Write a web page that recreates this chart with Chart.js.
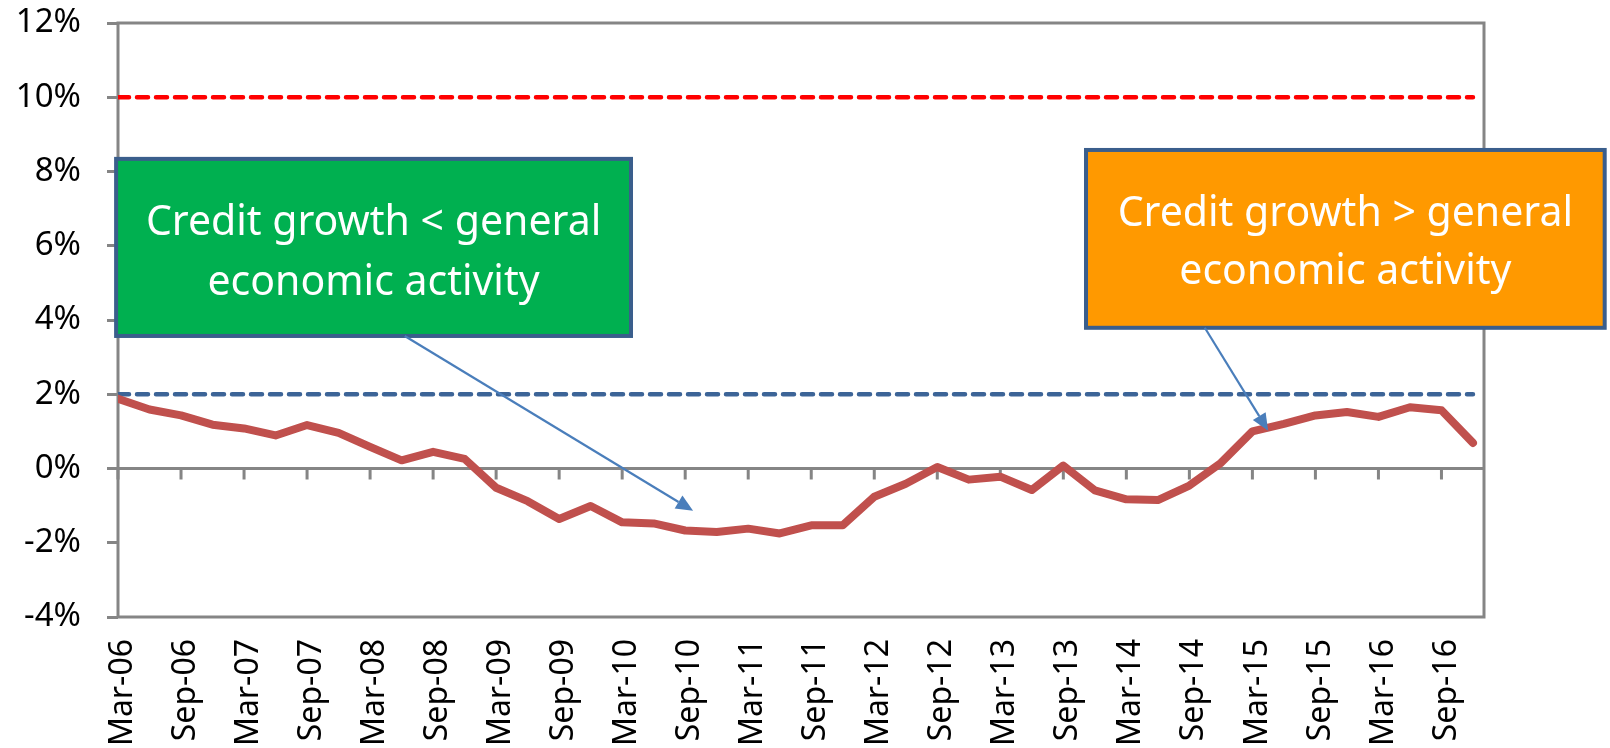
<!DOCTYPE html>
<html lang="en">
<head>
<meta charset="UTF-8" />
<title>Credit growth vs general economic activity</title>
<script src="https://cdn.jsdelivr.net/npm/chart.js"></script>
<style>
  html, body { margin: 0; padding: 0; background: #fff; }
  canvas { display: block; }
</style>
</head>
<body>
<canvas id="chart" width="1610" height="748"></canvas>
<script>
// quarterly categories, Mar-06 .. Dec-16
const quarters = [
  'Mar-06', 'Jun-06', 'Sep-06', 'Dec-06', 'Mar-07', 'Jun-07', 'Sep-07', 'Dec-07',
  'Mar-08', 'Jun-08', 'Sep-08', 'Dec-08', 'Mar-09', 'Jun-09', 'Sep-09', 'Dec-09',
  'Mar-10', 'Jun-10', 'Sep-10', 'Dec-10', 'Mar-11', 'Jun-11', 'Sep-11', 'Dec-11',
  'Mar-12', 'Jun-12', 'Sep-12', 'Dec-12', 'Mar-13', 'Jun-13', 'Sep-13', 'Dec-13',
  'Mar-14', 'Jun-14', 'Sep-14', 'Dec-14', 'Mar-15', 'Jun-15', 'Sep-15', 'Dec-15',
  'Mar-16', 'Jun-16', 'Sep-16', 'Dec-16'
];

// credit-to-GDP gap (%)
const creditGap = [
  1.88, 1.59, 1.43, 1.18, 1.08, 0.89, 1.17, 0.96,
  0.58, 0.22, 0.45, 0.26, -0.52, -0.88, -1.36, -1.01,
  -1.45, -1.48, -1.67, -1.71, -1.62, -1.75, -1.53, -1.53,
  -0.76, -0.41, 0.04, -0.30, -0.22, -0.58, 0.08, -0.59,
  -0.83, -0.85, -0.46, 0.15, 1.00, 1.20, 1.43, 1.52,
  1.39, 1.65, 1.57, 0.69
];

const upperThreshold = 10;
const lowerThreshold = 2;
const yTickValues = [-4, -2, 0, 2, 4, 6, 8, 10, 12];

const lastIdx = quarters.length - 1;
const axisGray = '#858585';
const font = '"Noto Sans", "DejaVu Sans", sans-serif';

// boxes and arrows, in data units (x = quarter index, y = %)
const notes = [
  {
    box: [-0.06, 8.34, 16.28, 3.57], fill: '#00B050', size: 41,
    lines: ['Credit growth < general', 'economic activity'], baselines: [76, 136],
    arrow: [9.1, 3.57, 18.25, -1.14]
  },
  {
    box: [30.72, 8.58, 47.18, 3.79], fill: '#FF9900', size: 41,
    lines: ['Credit growth > general', 'economic activity'], baselines: [76, 134],
    arrow: [34.49, 3.79, 36.5, 1.02]
  }
];

const framePlugin = {
  id: 'frame',
  beforeDatasetsDraw(chart) {
    const { ctx, chartArea: a, scales: { x, y } } = chart;
    ctx.save();
    ctx.strokeStyle = axisGray;
    ctx.lineWidth = 3;
    ctx.strokeRect(a.left, a.top, a.right - a.left, a.bottom - a.top);
    const y0 = y.getPixelForValue(0);
    ctx.beginPath();
    ctx.moveTo(a.left, y0);
    ctx.lineTo(a.right, y0);
    x.ticks.forEach(t => {
      const px = x.getPixelForValue(t.value);
      ctx.moveTo(px, y0);
      ctx.lineTo(px, y0 + 11);
    });
    ctx.stroke();
    ctx.restore();
  }
};

const notesPlugin = {
  id: 'notes',
  afterDraw(chart) {
    const { ctx, scales: { x, y } } = chart;
    ctx.save();
    notes.forEach(n => {
      const l = x.getPixelForValue(n.box[0]), t = y.getPixelForValue(n.box[1]);
      const r = x.getPixelForValue(n.box[2]), b = y.getPixelForValue(n.box[3]);
      ctx.fillStyle = n.fill;
      ctx.fillRect(l, t, r - l, b - t);
      ctx.strokeStyle = '#3A5E8C';
      ctx.lineWidth = 4;
      ctx.strokeRect(l, t, r - l, b - t);
      ctx.fillStyle = '#fff';
      ctx.font = n.size + 'px ' + font;
      ctx.textAlign = 'center';
      ctx.textBaseline = 'alphabetic';
      n.lines.forEach((s, i) => ctx.fillText(s, (l + r) / 2, t + n.baselines[i]));

      // arrow
      const x1 = x.getPixelForValue(n.arrow[0]), y1 = y.getPixelForValue(n.arrow[1]);
      const x2 = x.getPixelForValue(n.arrow[2]), y2 = y.getPixelForValue(n.arrow[3]);
      const ang = Math.atan2(y2 - y1, x2 - x1);
      const head = 17, half = 7.5;
      const bx = x2 - head * Math.cos(ang), by = y2 - head * Math.sin(ang);
      ctx.strokeStyle = '#4A7EBB';
      ctx.fillStyle = '#4A7EBB';
      ctx.lineWidth = 2.2;
      ctx.beginPath();
      ctx.moveTo(x1, y1);
      ctx.lineTo(bx, by);
      ctx.stroke();
      ctx.beginPath();
      ctx.moveTo(x2, y2);
      ctx.lineTo(bx + half * Math.sin(ang), by - half * Math.cos(ang));
      ctx.lineTo(bx - half * Math.sin(ang), by + half * Math.cos(ang));
      ctx.closePath();
      ctx.fill();
    });
    ctx.restore();
  }
};

new Chart(document.getElementById('chart'), {
  type: 'line',
  data: {
    datasets: [
      {
        label: 'Credit gap',
        data: creditGap.map((v, i) => ({ x: i, y: v })),
        borderColor: '#C0504D',
        borderWidth: 8,
        borderJoinStyle: 'round',
        borderCapStyle: 'round',
        pointRadius: 0,
        tension: 0,
        order: 0
      },
      {
        label: 'Upper',
        data: [{ x: 0, y: upperThreshold }, { x: lastIdx, y: upperThreshold }],
        borderColor: '#FF0000',
        borderWidth: 4.5,
        borderDash: [11, 8],
        borderCapStyle: 'round',
        pointRadius: 0,
        order: 1
      },
      {
        label: 'Lower',
        data: [{ x: 0, y: lowerThreshold }, { x: lastIdx, y: lowerThreshold }],
        borderColor: '#3C6497',
        borderWidth: 4.5,
        borderDash: [11, 8],
        borderCapStyle: 'round',
        pointRadius: 0,
        order: 2
      }
    ]
  },
  options: {
    responsive: false,
    animation: false,
    layout: { padding: { left: 0, top: 0, right: 126, bottom: 0 } },
    plugins: { legend: { display: false }, tooltip: { enabled: false } },
    scales: {
      x: {
        type: 'linear',
        min: 0,
        max: 43.35,
        bounds: 'data',
        grid: { display: false, drawTicks: false },
        border: { display: false },
        afterFit: s => { s.height = 131; s.paddingLeft = 0; s.paddingRight = 0; },
        ticks: {
          stepSize: 2,
          autoSkip: false,
          includeBounds: false,
          maxRotation: 90,
          minRotation: 90,
          padding: 22,
          labelOffset: 5,
          color: '#000',
          font: { family: font, size: 32 },
          callback: v => (Number.isInteger(v) && v % 2 === 0 ? quarters[v] : '')
        }
      },
      y: {
        min: yTickValues[0],
        max: yTickValues[yTickValues.length - 1],
        afterFit: s => { s.width = 118; s.paddingTop = 23; s.paddingBottom = 0; },
        grid: { drawOnChartArea: false, drawTicks: true, tickLength: 11, color: axisGray, lineWidth: 3 },
        border: { display: false },
        ticks: {
          stepSize: 2,
          padding: 26,
          color: '#000',
          font: { family: font, size: 33 },
          callback: v => v + '%'
        }
      }
    }
  },
  plugins: [framePlugin, notesPlugin]
});
</script>
</body>
</html>
